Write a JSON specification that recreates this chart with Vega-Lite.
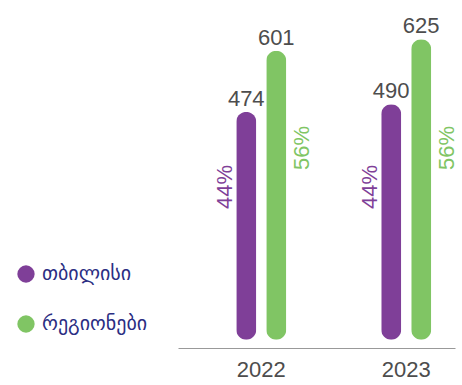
{
  "$schema": "https://vega.github.io/schema/vega-lite/v6.json",
  "width": 277,
  "height": 340,
  "autosize": {"type": "none"},
  "padding": {"left": 178, "top": 8, "right": 7, "bottom": 37},
  "background": "white",
  "config": {"view": {"stroke": null}, "font": "Liberation Sans"},
  "data": {"values": [
    {"year": "2022", "region": "თბილისი", "value": 474, "pct": "44%"},
    {"year": "2022", "region": "რეგიონები", "value": 601, "pct": "56%"},
    {"year": "2023", "region": "თბილისი", "value": 490, "pct": "44%"},
    {"year": "2023", "region": "რეგიონები", "value": 625, "pct": "56%"}
  ]},
  "encoding": {
    "x": {"field": "year", "type": "nominal",
      "scale": {"type": "band", "paddingInner": 0.655, "paddingOuter": 0.283, "align": 0.71},
      "axis": {"title": null, "ticks": false, "labelAngle": 0, "labelFontSize": 22, "labelColor": "#4d4d4d", "labelPadding": 11, "domainColor": "#999999", "domainWidth": 1, "grid": false}},
    "xOffset": {"field": "region", "type": "nominal", "sort": ["თბილისი", "რეგიონები"], "scale": {"paddingInner": 0.333, "paddingOuter": 0}}
  },
  "layer": [
    {
      "mark": {"type": "bar", "cornerRadius": 10},
      "encoding": {
        "y": {"field": "value", "type": "quantitative", "scale": {"domain": [-17, 690], "nice": false, "zero": false}, "axis": null},
        "color": {"field": "region", "type": "nominal",
          "scale": {"domain": ["თბილისი", "რეგიონები"], "range": ["#7f3f98", "#80c564"]},
          "legend": {"title": null, "orient": "none", "legendX": -162, "legendY": 256, "symbolType": "circle", "symbolSize": 300, "symbolStrokeWidth": 0, "labelFont": "DejaVu Sans", "labelFontSize": 20, "labelColor": "#2b2e83", "labelOffset": 6, "rowPadding": 30, "padding": 0}}
      }
    },
    {
      "mark": {"type": "text", "fontSize": 22, "color": "#4d4d4d", "baseline": "alphabetic", "dy": -6},
      "encoding": {
        "y": {"field": "value", "type": "quantitative"},
        "text": {"field": "value", "type": "quantitative"}
      }
    },
    {
      "transform": [{"filter": "datum.region == 'თბილისი'"}],
      "mark": {"type": "text", "fontSize": 22, "color": "#7f3f98", "angle": 270, "baseline": "middle", "align": "center", "dy": -21},
      "encoding": {
        "y": {"datum": 318, "type": "quantitative"},
        "text": {"field": "pct", "type": "nominal"}
      }
    },
    {
      "transform": [{"filter": "datum.region == 'რეგიონები'"}],
      "mark": {"type": "text", "fontSize": 22, "color": "#80c564", "angle": 270, "baseline": "middle", "align": "center", "dy": 26},
      "encoding": {
        "y": {"datum": 399, "type": "quantitative"},
        "text": {"field": "pct", "type": "nominal"}
      }
    }
  ]
}
